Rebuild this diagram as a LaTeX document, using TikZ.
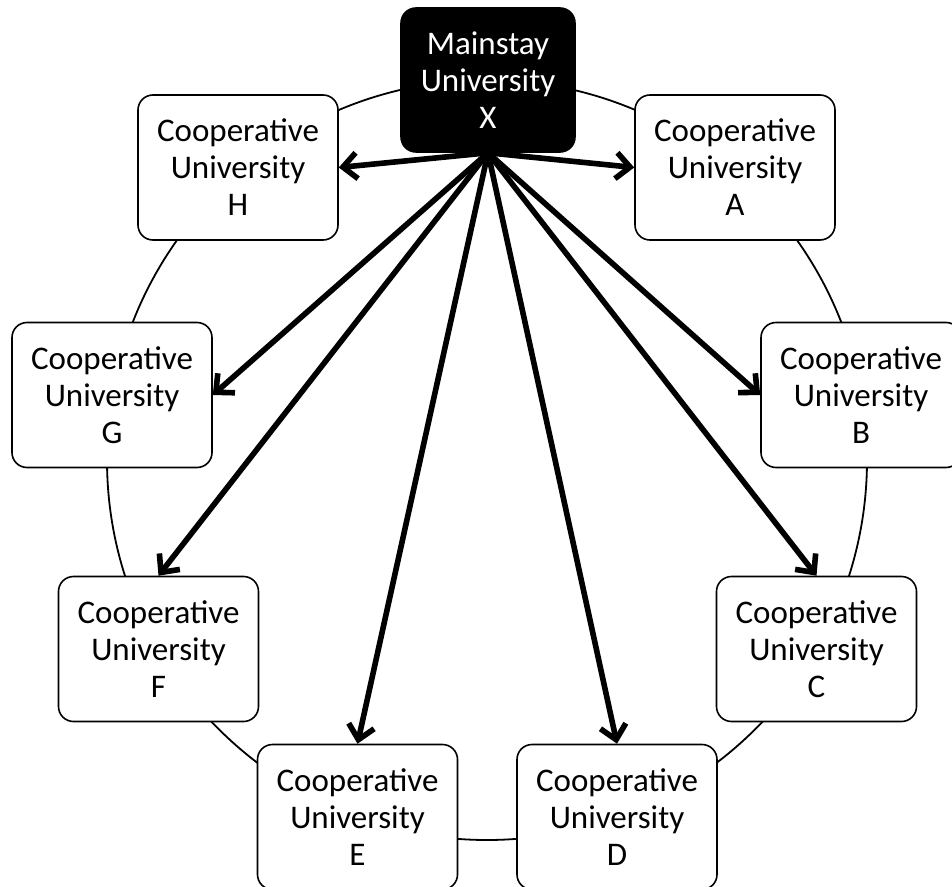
\documentclass[tikz,border=0pt]{standalone}
\usepackage{fontspec}
\setmainfont{Carlito}
\usetikzlibrary{arrows.meta}

\begin{document}
\begin{tikzpicture}[x=0.5pt,y=-0.5pt]
    \tikzstyle{coop}=[draw=black,line width=0.8pt,fill=white,rounded corners=7.5pt,minimum width=100pt,minimum height=72.5pt,inner sep=0pt,align=center,font=\fontsize{16.5}{18.5}\selectfont]
    \tikzstyle{main}=[coop,fill=black,text=white,minimum width=87pt,minimum height=72pt]
    \tikzstyle{link}=[line width=2.8pt,-{Straight Barb[length=7pt,width=13pt]}]
    \useasboundingbox (0,0) rectangle (952,887);
    \draw[line width=0.9pt] (487,460) circle [radius=190pt];
    \node[main] (x) at (488,80) {Mainstay\\University\\X};
    \node[coop] (a) at (735,167.5) {Cooperative\\University\\A};
    \node[coop] (b) at (861,395) {Cooperative\\University\\B};
    \node[coop] (c) at (816.5,649) {Cooperative\\University\\C};
    \node[coop] (d) at (617,817) {Cooperative\\University\\D};
    \node[coop] (e) at (357.5,817) {Cooperative\\University\\E};
    \node[coop] (f) at (158.5,649) {Cooperative\\University\\F};
    \node[coop] (g) at (112,395) {Cooperative\\University\\G};
    \node[coop] (h) at (238,167.5) {Cooperative\\University\\H};
    % arrows out of the mainstay
    \draw[link] (x.south) -- (h.east);
    \draw[link] (x.south) -- (a.west);
    \draw[link] (x.south) -- (g.east);
    \draw[link] (x.south) -- (b.west);
    \draw[link] (x.south) -- (f.north);
    \draw[link] (x.south) -- (c.north);
    \draw[link] (x.south) -- (e.north);
    \draw[link] (x.south) -- (d.north);
\end{tikzpicture}
\end{document}
